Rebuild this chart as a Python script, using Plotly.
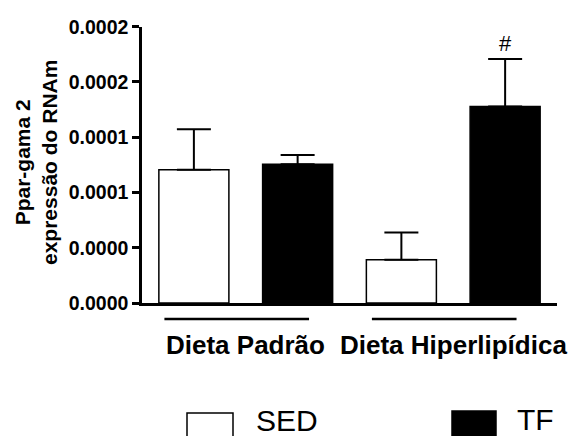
import plotly.graph_objects as go

W, H = 573, 436

categories = ["Dieta Padrão", "Dieta Hiperlipídica"]
sed_values = [0.0001205, 0.0000391]
sed_errors = [0.0000368, 0.0000247]
tf_values = [0.0001256, 0.0001777]
tf_errors = [0.0000084, 0.0000431]
tick_vals = [0, 0.00005, 0.0001, 0.00015, 0.0002, 0.00025]
tick_text = ["0.0000", "0.0000", "0.0001", "0.0001", "0.0002", "0.0002"]
y_title = "Ppar-gama 2<br>expressão do RNAm"
series_names = ["SED", "TF"]
sig_marks = ["", "#"]  # for TF bars

FONT = "Liberation Sans, Arial, sans-serif"

def px_x(p):
    return p / W

def px_y(p):
    return 1 - p / H

fig = go.Figure()
fig.add_trace(go.Bar(
    x=categories, y=sed_values, name=series_names[0],
    marker=dict(color="white", line=dict(color="black", width=1.5)),
    error_y=dict(type="data", array=sed_errors, arrayminus=[0] * len(sed_errors),
                 symmetric=False, color="black", thickness=2, width=17),
    showlegend=False,
))
fig.add_trace(go.Bar(
    x=categories, y=tf_values, name=series_names[1],
    marker=dict(color="black", line=dict(color="black", width=1.5)),
    error_y=dict(type="data", array=tf_errors, arrayminus=[0] * len(tf_errors),
                 symmetric=False, color="black", thickness=2, width=17),
    showlegend=False,
))

annotations = []
shapes = []

# significance marks above TF bars
for i, mark in enumerate(sig_marks):
    if mark:
        annotations.append(dict(
            x=i + 0.25, y=tf_values[i] + tf_errors[i], xref="x", yref="y",
            text=mark, showarrow=False, yanchor="bottom", yshift=1,
            font=dict(family=FONT, size=22, color="black"),
        ))

# group lines and labels under the axis
for i, cat in enumerate(categories):
    shapes.append(dict(type="line", xref="x", yref="paper",
                       x0=i - 0.392, x1=i + 0.305, y0=px_y(319), y1=px_y(319),
                       line=dict(color="black", width=2.5)))
    annotations.append(dict(
        x=cat, y=px_y(328), xref="x", yref="paper", text=cat, showarrow=False,
        yanchor="top", xanchor="center",
        font=dict(family=FONT, size=26, color="black", weight="bold"),
    ))

# y title
annotations.append(dict(
    x=px_x(36), y=px_y(163), xref="paper", yref="paper", text=y_title,
    showarrow=False, textangle=-90, xanchor="center", yanchor="middle",
    font=dict(family=FONT, size=21, color="black", weight="bold"),
))

# custom legend
legend_boxes = [(187, 233, 413, "white"), (452, 496, 411, "black")]
legend_text_pos = [(254, 402), (515, 401)]
for (x0, x1, top, col), (tx, ty), name in zip(legend_boxes, legend_text_pos, series_names):
    shapes.append(dict(type="rect", xref="paper", yref="paper",
                       x0=px_x(x0), x1=px_x(x1), y0=px_y(top), y1=px_y(445),
                       fillcolor=col, line=dict(color="black", width=1.5)))
    annotations.append(dict(
        x=px_x(tx), y=px_y(ty), xref="paper", yref="paper", text=name,
        showarrow=False, xanchor="left", yanchor="top",
        font=dict(family=FONT, size=30, color="black"),
    ))

fig.update_layout(
    template="none",
    width=W, height=H,
    margin=dict(l=0, r=0, t=0, b=0),
    paper_bgcolor="white", plot_bgcolor="white",
    barmode="group", bargap=0, bargroupgap=0.325,
    showlegend=False,
    shapes=shapes,
    annotations=annotations,
    xaxis=dict(
        domain=[px_x(142), px_x(557)], range=[-0.5, 1.5], type="category",
        showline=True, linecolor="black", linewidth=2.5,
        ticks="", showticklabels=False, showgrid=False, zeroline=False,
        automargin=False, fixedrange=True,
    ),
    yaxis=dict(
        domain=[px_y(303), px_y(26.7)], range=[0, 0.00025],
        tickvals=tick_vals, ticktext=tick_text,
        showline=True, linecolor="black", linewidth=2.5,
        ticks="outside", ticklen=7, tickwidth=2.5, tickcolor="black",
        tickfont=dict(family=FONT, size=19.5, color="black", weight="bold"),
        showgrid=False, zeroline=False, automargin=False, fixedrange=True,
    ),
)

fig.write_html("out.html")
